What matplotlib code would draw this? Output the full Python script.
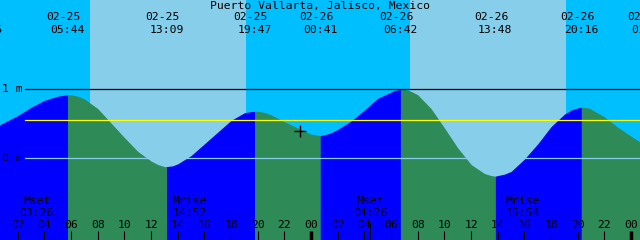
import matplotlib
matplotlib.use("Agg")
import matplotlib.pyplot as plt
import numpy as np

# hours counted from 02-25 00:00, level in metres
tide_hours = [0.6, 1, 2, 3, 4, 5, 5.5, 5.73, 6, 6.5, 7, 8, 9, 10, 11, 12, 12.5, 13, 13.15,
              13.6, 14, 15, 16, 17, 18, 19, 19.4, 19.78, 20, 20.5, 21, 22, 23, 24, 24.3, 24.68, 25,
              25.5, 26, 27, 28, 29, 30, 30.3, 30.7, 31, 31.5, 32, 33, 34, 35, 36, 37, 37.4, 37.8,
              38, 38.5, 39, 40, 41, 42, 43, 43.5, 44, 44.27, 44.8, 45, 46, 47, 48, 48.7]
tide_m = [0.48, 0.52, 0.62, 0.74, 0.84, 0.90, 0.915, 0.92, 0.92, 0.90, 0.86, 0.72, 0.51, 0.30, 0.10, -0.04, -0.09, -0.12, -0.12,
          -0.11, -0.08, 0.04, 0.21, 0.38, 0.55, 0.66, 0.675, 0.68, 0.68, 0.665, 0.63, 0.53, 0.44, 0.35, 0.34, 0.33, 0.34,
          0.37, 0.42, 0.54, 0.70, 0.87, 0.96, 0.985, 1.00, 1.00, 0.97, 0.92, 0.72, 0.44, 0.15, -0.09, -0.22, -0.245, -0.26,
          -0.25, -0.23, -0.19, -0.01, 0.21, 0.46, 0.64, 0.70, 0.73, 0.74, 0.73, 0.71, 0.60, 0.45, 0.32, 0.23]

# high / low tides
event_hours = [-0.42, 5.73, 13.15, 19.78, 24.68, 30.7, 37.8, 44.27, 49.33]
event_kind = ['low', 'high', 'low', 'high', 'low', 'high', 'low', 'high', 'low']
event_date = ['02-24', '02-25', '02-25', '02-25', '02-26', '02-26', '02-26', '02-26', '02-27']
event_time = ['23:35', '05:44', '13:09', '19:47', '00:41', '06:42', '13:48', '20:16', '01:20']

# sun: (rise, set)
day_spans = [(7.42, 19.09), (31.42, 43.1)]

# moon
moon_hours = [3.43, 14.87, 28.43, 39.9]
moon_name = ['Mset', 'Mrise', 'Mset', 'Mrise']
moon_time = ['03:26', '14:52', '04:26', '15:54']

now_hour = 23.17
now_level = 0.40
mean_level = 0.55

tick_hours = list(range(2, 49, 2))

t0, t1 = 0.667, 48.667
y0, y1 = -1.184, 2.294

fig = plt.figure(figsize=(6.4, 2.4), dpi=100)
ax = fig.add_axes([0, 0, 1, 1])
ax.set_xlim(t0, t1)
ax.set_ylim(y0, y1)
ax.axis('off')

night = '#00BFFF'
day = '#87CEEB'
ax.add_patch(plt.Rectangle((0, 0), 1, 1, transform=ax.transAxes, color=night, zorder=0))
for a, b in day_spans:
    ax.axvspan(a, b, color=day, lw=0, zorder=1)

th = np.array(tide_hours)
lv = np.array(tide_m)
for i in range(len(event_hours) - 1):
    a, b = event_hours[i], event_hours[i + 1]
    m = (th >= a - 1e-6) & (th <= b + 1e-6)
    if m.sum() < 2:
        continue
    col = 'blue' if event_kind[i] == 'low' else '#2E8B57'
    ax.fill_between(th[m], y0, lv[m], color=col, lw=0, zorder=2)

lw = 0.9
ax.axhline(1.0, xmin=25 / 640, color='black', lw=lw, zorder=3)
ax.axhline(mean_level, xmin=25 / 640, color='yellow', lw=lw, zorder=3)
ax.axhline(0.0, xmin=25 / 640, color=day, lw=lw, zorder=3)

ax.plot([now_hour], [now_level], marker='+', color='black', ms=8, mew=1, zorder=4)

font = dict(family='DejaVu Sans Mono', size=8.2, color='black')
xt = ax.get_xaxis_transform()

ax.text(0.5, 1 - 5.5 / 240, 'Puerto Vallarta, Jalisco, Mexico', transform=ax.transAxes,
        ha='center', va='center', zorder=5, **font)
ax.text(2 / 640, 1.0, '1 m', transform=ax.get_yaxis_transform(), ha='left', va='center', zorder=5, **font)
ax.text(2 / 640, 0.0, '0 m', transform=ax.get_yaxis_transform(), ha='left', va='center', zorder=5, **font)

for h, d, tm in zip(event_hours, event_date, event_time):
    if d != '02-24':
        ax.text(h - 4 / 13.333, 1 - 17.5 / 240, d, transform=xt, ha='center', va='center', zorder=5, **font)
    ax.text(h, 1 - 30 / 240, tm, transform=xt, ha='center', va='center', zorder=5, **font)

for h, n, tm in zip(moon_hours, moon_name, moon_time):
    ax.text(h, 1 - 201.5 / 240, n, transform=xt, ha='center', va='center', zorder=5, **font)
    ax.text(h, 1 - 213.5 / 240, tm, transform=xt, ha='center', va='center', zorder=5, **font)
    ax.vlines(h, 0, 18 / 240, transform=xt, color='black', lw=0.7, zorder=5)

for h in tick_hours:
    ax.text(h, 1 - 225 / 240, '%02d' % (h % 24), transform=xt, ha='center', va='center', zorder=5, **font)
    w = 2.5 if h % 24 == 0 else 0.8
    ax.vlines(h, 0, 9 / 240, transform=xt, color='black', lw=w, zorder=5)

fig.savefig('out.png', dpi=100)
